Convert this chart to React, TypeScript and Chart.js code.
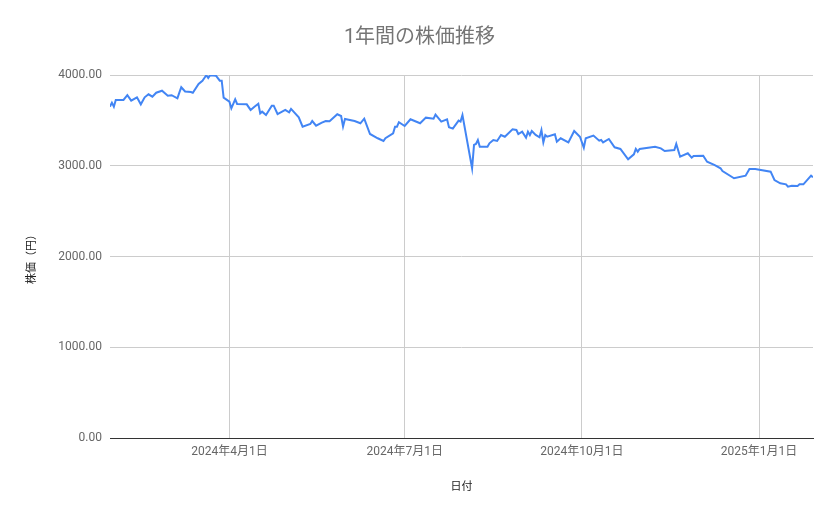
import { useEffect, useRef } from 'react';
import { Chart, registerables } from 'chart.js';

Chart.register(...registerables);

// 日付 (trading days)
const dates = [
  '2024-01-30', '2024-01-31', '2024-02-01', '2024-02-02', '2024-02-06', '2024-02-08', '2024-02-10', '2024-02-13',
  '2024-02-15', '2024-02-17', '2024-02-19', '2024-02-21', '2024-02-23', '2024-02-26', '2024-02-29', '2024-03-02',
  '2024-03-05', '2024-03-06', '2024-03-07', '2024-03-09', '2024-03-12', '2024-03-13', '2024-03-16', '2024-03-18',
  '2024-03-20', '2024-03-21', '2024-03-22', '2024-03-25', '2024-03-27', '2024-03-28', '2024-03-29', '2024-04-01',
  '2024-04-02', '2024-04-04', '2024-04-05', '2024-04-10', '2024-04-12', '2024-04-14', '2024-04-16', '2024-04-17',
  '2024-04-18', '2024-04-20', '2024-04-23', '2024-04-24', '2024-04-26', '2024-04-30', '2024-05-02', '2024-05-03',
  '2024-05-07', '2024-05-09', '2024-05-13', '2024-05-14', '2024-05-16', '2024-05-19', '2024-05-21', '2024-05-23',
  '2024-05-27', '2024-05-29', '2024-05-30', '2024-05-31', '2024-06-05', '2024-06-08', '2024-06-10', '2024-06-13',
  '2024-06-17', '2024-06-20', '2024-06-21', '2024-06-25', '2024-06-26', '2024-06-27', '2024-06-28', '2024-07-01',
  '2024-07-04', '2024-07-09', '2024-07-12', '2024-07-16', '2024-07-17', '2024-07-20', '2024-07-23', '2024-07-24',
  '2024-07-26', '2024-07-29', '2024-07-30', '2024-07-31', '2024-08-05', '2024-08-06', '2024-08-07', '2024-08-08',
  '2024-08-09', '2024-08-13', '2024-08-14', '2024-08-16', '2024-08-18', '2024-08-20', '2024-08-22', '2024-08-26',
  '2024-08-28', '2024-08-29', '2024-08-31', '2024-09-02', '2024-09-03', '2024-09-04', '2024-09-05', '2024-09-07',
  '2024-09-09', '2024-09-10', '2024-09-11', '2024-09-12', '2024-09-13', '2024-09-17', '2024-09-18', '2024-09-20',
  '2024-09-24', '2024-09-27', '2024-09-30', '2024-10-02', '2024-10-03', '2024-10-07', '2024-10-10', '2024-10-11',
  '2024-10-12', '2024-10-15', '2024-10-18', '2024-10-21', '2024-10-25', '2024-10-28', '2024-10-29', '2024-10-30',
  '2024-10-31', '2024-11-08', '2024-11-11', '2024-11-13', '2024-11-18', '2024-11-19', '2024-11-21', '2024-11-25',
  '2024-11-27', '2024-11-28', '2024-12-03', '2024-12-05', '2024-12-09', '2024-12-12', '2024-12-13', '2024-12-19',
  '2024-12-25', '2024-12-27', '2024-12-30', '2025-01-07', '2025-01-09', '2025-01-12', '2025-01-15', '2025-01-16',
  '2025-01-18', '2025-01-21', '2025-01-22', '2025-01-24', '2025-01-28', '2025-01-29',
];

// 株価(円)
const prices = [
  3651, 3695, 3651, 3725, 3725, 3777, 3717, 3754,
  3677, 3754, 3787, 3761, 3805, 3827, 3772, 3777,
  3743, 3805, 3865, 3818, 3813, 3805, 3901, 3937,
  3997, 3967, 3998, 3993, 3937, 3937, 3750, 3706,
  3633, 3732, 3681, 3677, 3615, 3651, 3684, 3578,
  3596, 3559, 3662, 3662, 3570, 3615, 3589, 3626,
  3534, 3431, 3460, 3493, 3442, 3475, 3493, 3490,
  3567, 3548, 3431, 3515, 3493, 3468, 3519, 3350,
  3303, 3273, 3303, 3358, 3431, 3431, 3480, 3438,
  3512, 3468, 3530, 3519, 3563, 3486, 3512, 3424,
  3409, 3497, 3486, 3559, 2972, 3229, 3240, 3284,
  3210, 3210, 3247, 3284, 3273, 3339, 3320, 3402,
  3394, 3350, 3376, 3309, 3376, 3339, 3383, 3339,
  3314, 3394, 3258, 3339, 3320, 3347, 3265, 3303,
  3258, 3383, 3320, 3199, 3303, 3332, 3276, 3284,
  3258, 3295, 3203, 3185, 3071, 3126, 3185, 3155,
  3185, 3210, 3192, 3163, 3174, 3240, 3100, 3137,
  3089, 3108, 3111, 3045, 3008, 2972, 2942, 2862,
  2891, 2964, 2964, 2935, 2843, 2806, 2795, 2769,
  2780, 2777, 2795, 2795, 2891, 2873,
];

const xTickDates = ['2024-04-01', '2024-07-01', '2024-10-01', '2025-01-01'];
const xTickLabels = ['2024年4月1日', '2024年7月1日', '2024年10月1日', '2025年1月1日'];
const yTicks = [0, 1000, 2000, 3000, 4000];

const FONT = "Roboto, 'Noto Sans CJK JP', sans-serif";

function dayNum(s: string) {
  const [y, m, d] = s.split('-').map(Number);
  return Date.UTC(y, m - 1, d) / 86400000;
}

export default function App() {
  const canvasRef = useRef<HTMLCanvasElement>(null);
  const chartRef = useRef<Chart | null>(null);

  useEffect(() => {
    if (!canvasRef.current) return;
    if (chartRef.current) chartRef.current.destroy();

    const points = dates.map((d, i) => ({ x: dayNum(d), y: prices[i] }));
    const tickDays = xTickDates.map(dayNum);

    chartRef.current = new Chart(canvasRef.current, {
      type: 'line',
      data: {
        datasets: [
          {
            label: '株価',
            data: points,
            borderColor: '#4285f4',
            borderWidth: 2,
            pointRadius: 0,
            tension: 0,
            fill: false,
          },
        ],
      },
      options: {
        animation: false,
        responsive: true,
        maintainAspectRatio: false,
        layout: { padding: 0 },
        plugins: {
          legend: { display: false },
          tooltip: { enabled: false },
          title: {
            display: true,
            text: '1年間の株価推移',
            color: '#757575',
            font: { family: FONT, size: 20, weight: 'normal' },
            padding: { top: 26, bottom: 25 },
          },
        },
        scales: {
          x: {
            type: 'linear',
            min: dayNum(dates[0]),
            max: dayNum(dates[dates.length - 1]),
            afterBuildTicks: (scale: any) => {
              scale.ticks = tickDays.map((v) => ({ value: v }));
            },
            afterFit: (scale: any) => {
              scale.height = 81;
            },
            ticks: {
              autoSkip: false,
              maxRotation: 0,
              padding: 7,
              color: '#666',
              font: { family: FONT, size: 12 },
              callback: (value: any) => {
                const i = tickDays.indexOf(Number(value));
                return i >= 0 ? xTickLabels[i] : '';
              },
            },
            grid: { color: '#cccccc', drawTicks: false },
            border: { display: true, color: '#333333', width: 1 },
            title: {
              display: true,
              text: '日付',
              color: '#222',
              font: { family: FONT, size: 11 },
              padding: { top: 0, bottom: 25 },
            },
          },
          y: {
            min: yTicks[0],
            max: yTicks[yTicks.length - 1],
            afterBuildTicks: (scale: any) => {
              scale.ticks = yTicks.map((v) => ({ value: v }));
            },
            afterFit: (scale: any) => {
              scale.width = 110;
            },
            ticks: {
              padding: 8,
              color: '#666',
              font: { family: FONT, size: 12 },
              callback: (value: any) => Number(value).toFixed(2),
            },
            grid: {
              drawTicks: false,
              color: (ctx: any) => (ctx.tick && ctx.tick.value === 0 ? '#333333' : '#cccccc'),
            },
            border: { display: false },
            title: {
              display: true,
              text: '株価（円）',
              color: '#222',
              font: { family: FONT, size: 11 },
              padding: { top: 26, bottom: 0 },
            },
          },
          // empty right-hand spacer so the title stays centred on the full canvas
          yRight: {
            position: 'right',
            grid: { display: false, drawTicks: false },
            border: { display: false },
            ticks: { display: false },
            afterFit: (scale: any) => {
              scale.width = 26;
            },
          },
        },
      },
    });

    return () => {
      if (chartRef.current) {
        chartRef.current.destroy();
        chartRef.current = null;
      }
    };
  }, []);

  return (
    <div style={{ position: 'fixed', left: 0, top: 0, width: 839, height: 519, background: '#fff' }}>
      <canvas ref={canvasRef}></canvas>
    </div>
  );
}
